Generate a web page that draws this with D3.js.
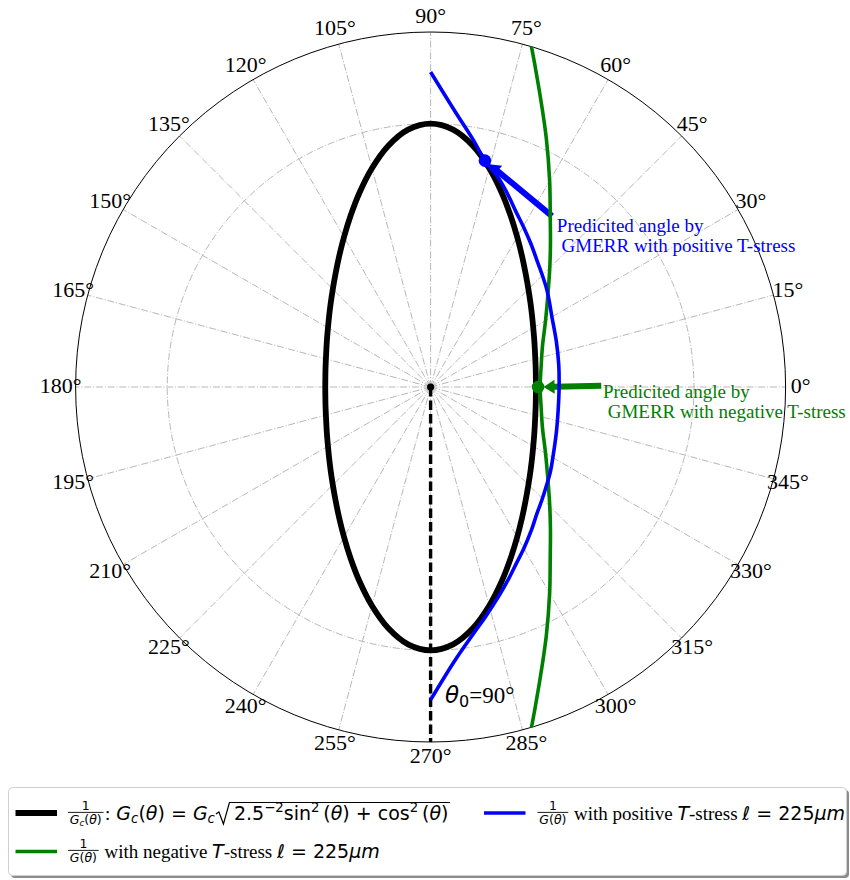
<!DOCTYPE html>
<html><head><meta charset="utf-8">
<script src="https://cdn.jsdelivr.net/npm/d3@7"></script>
<style>body{margin:0;background:#fff}svg{display:block}</style>
</head><body>
<script>
// ---------------- data ----------------
const tickAngles = [0,15,30,45,60,75,90,105,120,135,150,165,180,195,210,225,240,255,270,285,300,315,330,345];
const tickLabels = ['0°','15°','30°','45°','60°','75°','90°','105°','120°','135°','150°','165°','180°','195°','210°','225°','240°','255°','270°','285°','300°','315°','330°','345°'];
const rGrid = [2.5];
const rMax = 3.37;

// 1/Gc(theta) (black)
const ellipseAngles = [0,5,10,15,20,25,30,35,40,45,50,55,60,65,70,75,80,85,90,95,100,105,110,115,120,125,130,135,140,145,150,155,160,165,170,175,180,185,190,195,200,205,210,215,220,225,230,235,240,245,250,255,260,265,270,275,280,285,290,295,300,305,310,315,320,325,330,335,340,345,350,355];
const ellipseR = [1.00,1.003,1.013,1.029,1.053,1.085,1.125,1.176,1.238,1.313,1.404,1.514,1.644,1.796,1.968,2.150,2.323,2.452,2.50,2.452,2.323,2.150,1.968,1.796,1.644,1.514,1.404,1.313,1.238,1.176,1.125,1.085,1.053,1.029,1.013,1.003,1.00,1.003,1.013,1.029,1.053,1.085,1.125,1.176,1.238,1.313,1.404,1.514,1.644,1.796,1.968,2.150,2.323,2.452,2.50,2.452,2.323,2.150,1.968,1.796,1.644,1.514,1.404,1.313,1.238,1.176,1.125,1.085,1.053,1.029,1.013,1.003];

// 1/G(theta) positive T-stress (blue)
const posAngles = [-90,-85,-80,-76.5,-72,-68,-64,-60,-55,-50,-45,-40,-35,-30,-20,-10,0,10,20,30,35,40,45,50,55,60,64,68,72,76.5,80,85,90];
const posR = [2.97,2.61,2.37,2.24,2.09,1.97,1.86,1.77,1.665,1.57,1.50,1.44,1.39,1.34,1.27,1.23,1.22,1.235,1.27,1.33,1.38,1.44,1.50,1.57,1.66,1.76,1.85,1.965,2.085,2.21,2.37,2.63,2.99];

// 1/G(theta) negative T-stress (green)
const negAngles = [-78,-75,-70,-65,-60,-55,-50,-45,-40,-30,-20,-10,0,10,20,30,40,45,50,55,60,65,70,75,78];
const negR = [3.95,3.55,3.01,2.60,2.26,1.98,1.77,1.60,1.46,1.26,1.13,1.065,1.04,1.065,1.13,1.26,1.46,1.60,1.77,1.98,2.26,2.60,3.01,3.55,3.95];

// annotations: predicted angle points, arrow tails, text anchors (theta deg, r)
const predAngles = [76.5, 0];
const predR = [2.21, 1.02];
const tailAngles = [54.6, 0.4];
const tailR = [1.99, 1.62];
const noteAngles = [50.9, -3.75];
const noteR = [1.90, 1.64];
const noteLines = [["Predicited angle by", " GMERR with positive T-stress"], ["Predicited angle by", " GMERR with negative T-stress"]];
const noteColors = ['#0000ff', '#008000'];
const theta0Angle = 272.6, theta0R = 3.0;
const refLineAngles = [0, 270];   // dashed black line from centre towards 270°

// ---------------- drawing ----------------
const W = 850, H = 880, cx = 430.6, cy = 387, R = 355;
const SERIF = "'Liberation Serif','Times New Roman',serif";
const SANS = "'DejaVu Sans',sans-serif";
const svg = d3.select('body').append('svg').attr('width', W).attr('height', H);
const g = svg.append('g').attr('transform', `translate(${cx},${cy})`);

const rs = d3.scaleLinear().domain([0, rMax]).range([0, R]);
const as = d3.scaleLinear().domain([0, 360]).range([Math.PI/2, Math.PI/2 - 2*Math.PI]);
const pt = (th, r) => d3.pointRadial(as(th), rs(r));

svg.append('defs').append('clipPath').attr('id', 'clip')
  .append('circle').attr('cx', cx).attr('cy', cy).attr('r', R);

const gridStyle = s => s.attr('fill', 'none').attr('stroke', '#b8b8b8').attr('stroke-width', 1)
  .attr('stroke-dasharray', '7,1.8,1.1,1.8');

// radial grid lines
g.selectAll('.spoke').data(tickAngles).join('line')
  .attr('x1', 0).attr('y1', 0)
  .attr('x2', d => d3.pointRadial(as(d), R)[0])
  .attr('y2', d => d3.pointRadial(as(d), R)[1])
  .call(gridStyle);
// circle grid
g.selectAll('.ring').data(rGrid).join('circle').attr('r', d => rs(d)).call(gridStyle);
// outer frame
g.append('circle').attr('r', R).attr('fill', 'none').attr('stroke', '#000').attr('stroke-width', 1);

// tick labels
g.selectAll('.tl').data(tickAngles).join('text')
  .attr('x', d => d3.pointRadial(as(d), 370)[0])
  .attr('y', d => d3.pointRadial(as(d), 370)[1] - 1.5 + 7.3)
  .attr('text-anchor', 'middle').attr('font-family', SERIF).attr('font-size', 22)
  .text((d, i) => tickLabels[i]);

const clipG = svg.append('g').attr('clip-path', 'url(#clip)').append('g').attr('transform', `translate(${cx},${cy})`);

const radial = d3.lineRadial().curve(d3.curveCatmullRom.alpha(0.5));
const radialClosed = d3.lineRadial().curve(d3.curveCatmullRomClosed.alpha(0.5));

// dashed reference line
clipG.append('path')
  .attr('d', d3.lineRadial()([[as(refLineAngles[1]), 0], [as(refLineAngles[1]), R]]))
  .attr('stroke', '#000').attr('stroke-width', 3.4).attr('stroke-dasharray', '9.5,4').attr('fill', 'none');

// black ellipse
clipG.append('path')
  .attr('d', radialClosed(ellipseAngles.map((a, i) => [as(a), rs(ellipseR[i])])))
  .attr('fill', 'none').attr('stroke', '#000').attr('stroke-width', 5.8);
// green
clipG.append('path')
  .attr('d', radial(negAngles.map((a, i) => [as(a), rs(negR[i])])))
  .attr('fill', 'none').attr('stroke', '#008000').attr('stroke-width', 3.6);
// blue
clipG.append('path')
  .attr('d', radial(posAngles.map((a, i) => [as(a), rs(posR[i])])))
  .attr('fill', 'none').attr('stroke', '#0000ff').attr('stroke-width', 3.6);

// centre dot
clipG.append('circle').attr('r', 3.6).attr('fill', '#000');

// annotations
predAngles.forEach((a, i) => {
  const P = pt(a, predR[i]), T = pt(tailAngles[i], tailR[i]);
  const col = noteColors[i];
  clipG.append('circle').attr('cx', P[0]).attr('cy', P[1]).attr('r', 6.3).attr('fill', col);
  const dx = P[0] - T[0], dy = P[1] - T[1], L = Math.hypot(dx, dy);
  const ux = dx / L, uy = dy / L, nx = -uy, ny = ux;
  const tip = [P[0] - ux * 5.5, P[1] - uy * 5.5];
  const hb = [tip[0] - ux * 11, tip[1] - uy * 11];
  const sw = 3, hw = 7;
  const poly = [
    [T[0] + nx * sw, T[1] + ny * sw], [hb[0] + nx * sw, hb[1] + ny * sw], [hb[0] + nx * hw, hb[1] + ny * hw],
    tip, [hb[0] - nx * hw, hb[1] - ny * hw], [hb[0] - nx * sw, hb[1] - ny * sw], [T[0] - nx * sw, T[1] - ny * sw]];
  g.append('polygon').attr('points', poly.map(p => p.join(',')).join(' ')).attr('fill', col);
  const N = pt(noteAngles[i], noteR[i]);
  const t = g.append('text').attr('x', N[0]).attr('y', N[1]).attr('font-family', SERIF).attr('font-size', 19)
    .attr('fill', col).style('white-space', 'pre');
  noteLines[i].forEach((ln, j) => t.append('tspan').attr('x', N[0]).attr('dy', j ? 20 : 0).text(ln));
});

// theta0 label
{
  const P = pt(theta0Angle, theta0R);
  const t = g.append('text').attr('x', P[0]).attr('y', P[1]).attr('font-size', 23).style('white-space', 'pre');
  t.append('tspan').attr('font-family', SANS).attr('font-style', 'italic').text('θ');
  t.append('tspan').attr('font-family', SANS).attr('font-size', 16).attr('dy', 4).text('0');
  t.append('tspan').attr('font-family', SERIF).attr('dy', -4).text('=90°');
}

// ---------------- legend ----------------
const lg = svg.append('g');
lg.append('rect').attr('x', 11).attr('y', 790).attr('width', 838).attr('height', 88).attr('rx', 4)
  .attr('fill', '#000').attr('opacity', 0.45);
lg.append('rect').attr('x', 8.5).attr('y', 787.5).attr('width', 838).attr('height', 88).attr('rx', 4)
  .attr('fill', '#fff').attr('stroke', '#cfcfcf').attr('stroke-width', 1);

const FS = 19, FFS = 12.5, MFS = 19;
function runs(textSel, list, fs) {
  return list.map(r => {
    const s = textSel.append('tspan').text(r.t)
      .attr('font-family', r.f === 'serif' ? SERIF : SANS)
      .attr('font-style', r.i ? 'italic' : 'normal')
      .attr('font-size', (r.s || 1) * fs);
    if (r.dy) s.attr('dy', r.dy);
    return s;
  });
}
function fraction(x, B, denList) {
  const tmp = lg.append('text').attr('font-size', FFS).style('white-space', 'pre');
  runs(tmp, denList, FFS);
  const w = tmp.node().getComputedTextLength();
  tmp.remove();
  const pad = 1.8, bw = w + 2 * pad;
  const t = lg.append('text').attr('font-size', FFS).style('white-space', 'pre');
  t.append('tspan').attr('x', x + bw / 2 - FFS * 0.318).attr('y', B - 10.5).attr('font-family', SANS).text('1');
  const spans = runs(t, denList, FFS);
  spans[0].attr('x', x + pad).attr('y', B + 3.8);
  lg.append('line').attr('x1', x).attr('x2', x + bw).attr('y1', B - 7.6).attr('y2', B - 7.6)
    .attr('stroke', '#000').attr('stroke-width', 0.9);
  return x + bw;
}
function textRun(x, B, list, fs) {
  const t = lg.append('text').attr('x', x).attr('y', B).attr('font-size', fs).style('white-space', 'pre');
  runs(t, list, fs);
  return x + t.node().getComputedTextLength();
}
const denGc = [{t:'G', i:1}, {t:'c', i:1, s:0.7, dy:2}, {t:'(', dy:-2}, {t:'θ', i:1}, {t:')'}];
const denG = [{t:'G', i:1}, {t:'(', }, {t:'θ', i:1}, {t:')'}];

const legendColors = ['#000', '#0000ff', '#008000'];
const handle = (x, y, c, w) => lg.append('line').attr('x1', x).attr('x2', x + 41.5).attr('y1', y).attr('y2', y)
  .attr('stroke', c).attr('stroke-width', w);

// row 1, entry 1
let B = 820;
handle(15.5, 813, legendColors[0], 5.8);
let x = fraction(68, B, denGc);
x = textRun(x + 1.5, B, [{t:':', f:'serif'}, {t:' '}, {t:'G', i:1}, {t:'c', i:1, s:0.7, dy:3}, {t:'(', dy:-3}, {t:'θ', i:1}, {t:')'},
  {t:' = '}, {t:'G', i:1}, {t:'c', i:1, s:0.7, dy:3}], MFS);
// radical
const rx0 = x + 1, topY = B - 17.5;
lg.append('path').attr('d', `M${rx0},${B - 6} L${rx0 + 3},${B - 8} L${rx0 + 7.5},${B + 4} L${rx0 + 13.5},${topY} L${rx0 + 16},${topY}`)
  .attr('fill', 'none').attr('stroke', '#000').attr('stroke-width', 1.2).attr('stroke-linejoin', 'miter');
const x2 = textRun(rx0 + 18, B, [{t:'2.5'}, {t:'−2', s:0.7, dy:-8}, {t:'sin', dy:8}, {t:'2', s:0.7, dy:-8}, {t:'\u2009(', dy:8}, {t:'θ', i:1}, {t:')'},
  {t:' + '}, {t:'cos'}, {t:'2', s:0.7, dy:-8}, {t:'\u2009(', dy:8}, {t:'θ', i:1}, {t:')'}], MFS);
lg.append('line').attr('x1', rx0 + 16).attr('x2', x2 + 1.5).attr('y1', topY).attr('y2', topY).attr('stroke', '#000').attr('stroke-width', 1.2);

// row 1, entry 2
handle(484, 813, legendColors[1], 3.6);
x = fraction(537.5, B, denG);
textRun(x + 1, B, [{t:' with positive ', f:'serif'}, {t:'T', i:1}, {t:'-stress ', f:'serif'}, {t:'ℓ', i:1}, {t:' = 225'}, {t:'μm', i:1}], FS);

// row 2
B = 858;
handle(15.5, 851.5, legendColors[2], 3.6);
x = fraction(68, B, denG);
textRun(x + 1, B, [{t:' with negative ', f:'serif'}, {t:'T', i:1}, {t:'-stress ', f:'serif'}, {t:'ℓ', i:1}, {t:' = 225'}, {t:'μm', i:1}], FS);
</script>
</body></html>
